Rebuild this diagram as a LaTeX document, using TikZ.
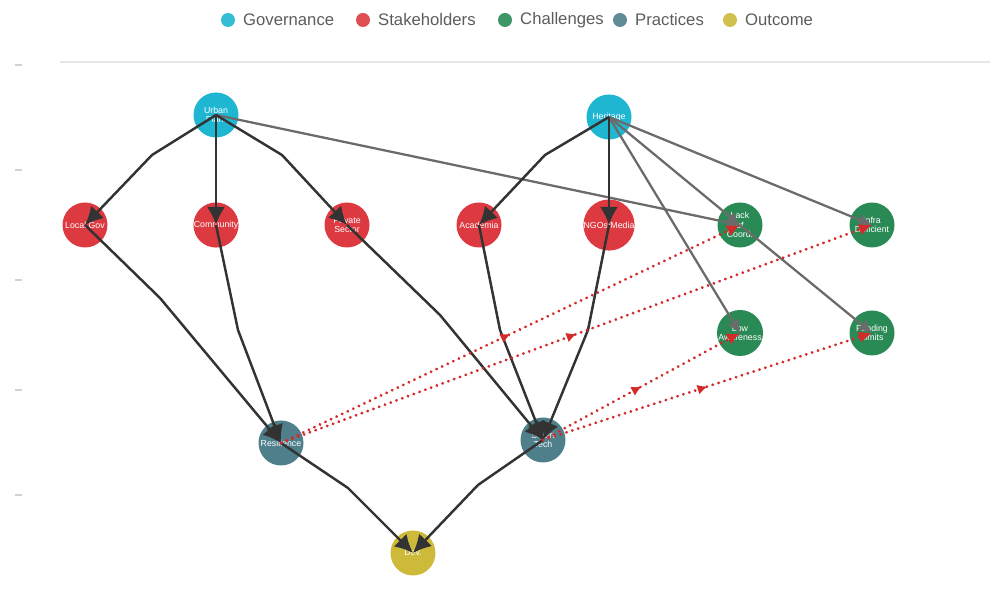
\documentclass[tikz,border=0pt]{standalone}
\usepackage{fontspec}
\setmainfont{Liberation Sans}
\usetikzlibrary{arrows.meta,calc,decorations.markings}
\definecolor{Ink}{HTML}{333333}
\definecolor{Link}{HTML}{6B6B6B}
\definecolor{Risk}{HTML}{D42A2A}
\definecolor{Gov}{HTML}{1EB6D1}
\definecolor{Stake}{HTML}{DC3A40}
\definecolor{Chal}{HTML}{2A8A55}
\definecolor{Prac}{HTML}{4E7F8B}
\definecolor{Outc}{HTML}{CDB93A}
\definecolor{Faint}{HTML}{E6E6E6}

\begin{document}
\begin{tikzpicture}[
    agent/.style={circle, minimum size=0.9cm, inner sep=0pt, text=white, font=\fontsize{5}{5.5}\selectfont, align=center},
    flow/.style={draw=Ink, line width=1.4pt, -{Latex[length=3.6mm,width=3.6mm]}},
    link/.style={draw=Link, line width=1.3pt, -{Latex[length=2.6mm,width=2.6mm]}},
    risk/.style={draw=Risk, line width=1.7pt, dash pattern=on 0.1pt off 3.4pt, line cap=round,
      -{Latex[length=2.6mm,width=2.4mm]}, postaction={decorate},
      decoration={markings, mark=at position 0.5 with {\arrow{Latex[length=2mm,width=2mm]}}}},
    legtext/.style={anchor=west, text=Ink!80, font=\fontsize{9.5}{11}\selectfont}
  ]
  \useasboundingbox (0,0) rectangle (19.96,-12.02);

  % faint axis remains
  \draw[Faint, line width=0.6pt] (1.2,-1.24) -- (19.8,-1.24);
  \foreach \y in {1.30,3.40,5.60,7.80,9.90}
    \draw[Faint!80!gray, line width=0.6pt] (0.30,-\y) -- (0.45,-\y);

  % legend
  \foreach \c/\x/\t in {Gov/4.56/Governance, Stake/7.26/Stakeholders, Chal/10.10/Challenges, Prac/12.40/Practices, Outc/14.60/Outcome} {
    \fill[\c!90!white] (\x,-0.40) circle (0.14);
    \node[legtext] (leg-\t) at (\x+0.18,-0.40) {\t};
  }

  % governance
  \node[agent, fill=Gov] (u) at (4.32,-2.30) {Urban\\Plan.};
  \node[agent, fill=Gov] (h) at (12.18,-2.34) {Heritage};

  % stakeholders
  \node[agent, fill=Stake] (s1) at (1.70,-4.50) {Local Gov};
  \node[agent, fill=Stake] (s2) at (4.32,-4.50) {Community};
  \node[agent, fill=Stake] (s3) at (6.94,-4.50) {Private\\Sector};
  \node[agent, fill=Stake] (s4) at (9.58,-4.50) {Academia};
  \node[agent, fill=Stake] (s5) at (12.18,-4.50) {NGOs/Media};

  % challenges
  \node[agent, fill=Chal] (c1) at (14.80,-4.50) {Lack\\of\\Coord.};
  \node[agent, fill=Chal] (c2) at (17.44,-4.50) {Infra\\Deficient};
  \node[agent, fill=Chal] (c3) at (14.80,-6.66) {Low\\Awareness};
  \node[agent, fill=Chal] (c4) at (17.44,-6.66) {Funding\\Limits};

  % practices and outcome
  \node[agent, fill=Prac] (p1) at (5.62,-8.86) {Resilience};
  \node[agent, fill=Prac] (p2) at (10.86,-8.80) {Smart\\Tech};
  \node[agent, fill=Outc] (o) at (8.26,-11.06) {Dev.};

  % governance links
  \draw[link] (u.center) -- (c1.center);
  \draw[link] (h.center) -- (c1.center);
  \draw[link] (h.center) -- (c2.center);
  \draw[link] (h.center) -- (c3.center);
  \draw[link] (c1.center) -- (c4.center);

  \draw[flow] (u.center) -- ++(-1.28,-0.80) -- (s1.center);
  \draw[flow] (u.center) -- (s2.center);
  \draw[flow] (u.center) -- ++(1.32,-0.80) -- (s3.center);
  \draw[flow] (h.center) -- ++(-1.28,-0.76) -- (s4.center);
  \draw[flow] (h.center) -- (s5.center);

  % stakeholders to practices
  \draw[flow] (s1.center) -- ++(1.50,-1.46) -- (p1.center);
  \draw[flow] (s2.center) -- ++(0.44,-2.10) -- (p1.center);
  \draw[flow] (s3.center) -- ++(1.86,-1.80) -- (p2.center);
  \draw[flow] (s4.center) -- ++(0.42,-2.10) -- (p2.center);
  \draw[flow] (s5.center) -- ++(-0.42,-2.10) -- (p2.center);

  % practices to outcome
  \draw[flow] (p1.center) -- ++(1.34,-0.90) -- (o.center);
  \draw[flow] (p2.center) -- ++(-1.30,-0.90) -- (o.center);

  % practices against challenges
  \draw[risk] (p1.center) -- (c1.center);
  \draw[risk] (p1.center) -- (c2.center);
  \draw[risk] (p2.center) -- (c3.center);
  \draw[risk] (p2.center) -- (c4.center);
\end{tikzpicture}
\end{document}
